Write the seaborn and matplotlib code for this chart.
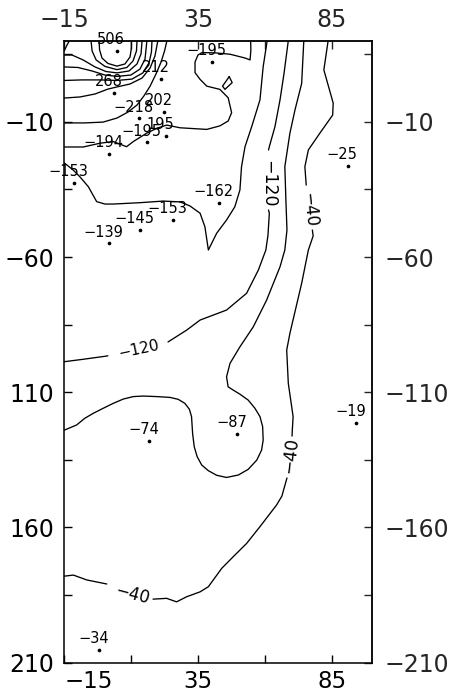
import matplotlib
matplotlib.use("Agg")
import matplotlib.pyplot as plt
import seaborn as sns

# ---------------- stations (x, depth) and their printed values ----------------
station_x = [4.6, 21.2, 3.7, 22.3, 12.9, 22.9, 15.8, 1.6, -11.4, 42.9, 25.8, 13.3, 1.6, 40.3, 91.0, 94.3, 49.7, 16.7, -2.0]
station_y = [16.2, 5.8, 0.8, -6.3, -8.7, -15.2, -17.6, -21.9, -32.5, -40.0, -46.3, -50.0, -54.9, 12.2, -26.2, -121.3, -125.4, -128.0, -205.2]
station_text = ["506", "212", "268", "202", "\u2212218", "195", "\u2212195", "\u2212194", "\u2212153", "\u2212162",
                "\u2212153", "\u2212145", "\u2212139", "\u2212195", "\u221225", "\u221219", "\u221287", "\u221274", "\u221234"]

# ---------------- traced isolines (split where a label interrupts the line) ----------------
c40_a_x = [83.7, 82.1, 85.6, 85.4, 80.6, 76.3, 75.0, 75.4, 75.5]
c40_a_y = [20, 9.2, -3.1, -7.5, -14.2, -20.4, -26.6, -32.0, -33.4]
c40_b_x = [77.8, 78.1, 76.3, 73.8, 69.4, 68.2, 68.8, 70.6, 70.3, 70.2]
c40_b_y = [-50.0, -52.2, -57.4, -69.7, -88.2, -94.4, -106.7, -119.0, -124.0, -126.2]
c40_c_x = [68.3, 66.4, 64.4, 58.2, 53.2, 48.2, 43.9, 38.9, 35.8, 30.8, 27.0, 23.3, 18.2]
c40_c_y = [-141.7, -148.4, -151.7, -159.7, -165.9, -170.8, -175.1, -181.9, -183.8, -185.6, -187.5, -186.2, -186.5]
c40_d_x = [0.9, -1.6, -6.6, -11.6, -15.0]
c40_d_y = [-180.9, -180.4, -179.4, -177.6, -178.0]

c80_x = [74.6, 73.8, 71.3, 69.4, 67.5, 67.9, 68.3, 67.5, 65.7, 60.7, 55.7, 50.7, 47.0, 45.7, 46.3, 48.2, 50.7,
         53.8, 56.3, 58.2, 59.2, 59.4, 58.8, 57.0, 53.8, 50.1, 45.7, 42.0, 38.9, 36.4, 34.7, 33.6, 33.0, 32.6,
         31.8, 30.1, 27.6, 24.5, 19.6, 14.5, 10.8, 7.1, 3.3, -0.4, -4.2, -7.3, -10.4, -15.0]
c80_y = [20, 4.2, -5.6, -14.2, -26.6, -38.9, -50.0, -57.4, -63.6, -75.9, -85.8, -93.2, -99.3, -104.3, -108.0,
         -109.2, -110.7, -112.9, -115.9, -119.0, -122.7, -127.7, -131.4, -135.1, -138.5, -140.6, -141.5, -140.7,
         -139.0, -136.9, -133.8, -130.1, -125.2, -119.0, -116.3, -114.1, -112.6, -111.9, -111.6, -111.4, -111.6,
         -112.5, -114.1, -115.9, -117.8, -119.6, -122.1, -124.0]

c120_a_x = [68.8, 67.2, 65.7, 63.8, 61.7, 61.4]
c120_a_y = [20, 7.9, -1.9, -11.8, -19.2, -20.4]
c120_b_x = [61.4, 61.7, 61.2, 60.4, 57.6, 53.2, 45.7, 35.8, 30.8, 23.8]
c120_b_y = [-42.6, -43.8, -51.9, -57.4, -64.8, -73.4, -79.6, -83.3, -87.0, -91.4]
c120_c_x = [1.3, 0.9, -7.9, -15.0]
c120_c_y = [-96.5, -96.6, -97.8, -98.7]

c160_x = [-15.0, -11.7, -9.1, -6.0, -2.9, 0.2, 3.3, 13.3, 22.0, 28.3, 32.0, 35.8, 37.6, 38.9, 42.0, 45.7, 48.8,
          50.7, 51.3, 52.6, 55.1, 58.2, 59.4, 60.9]
c160_y = [-25.2, -27.8, -30.4, -34.0, -39.5, -40.4, -40.4, -39.9, -39.3, -39.6, -41.1, -43.8, -48.8, -57.4, -51.2,
          -46.3, -41.4, -35.2, -26.6, -19.2, -11.8, -1.9, 10.4, 20]

c200_x = [-15.0, -7.9, -1.6, 3.3, 8.3, 10.8, 15.8, 19.6, 23.3, 28.3, 38.3, 43.2, 46.3, 47.6, 46.3, 43.2, 38.3,
          35.8, 33.9, 33.9, 35.0, 36.5, 41.4, 47.0, 52.6, 54.5, 54.8, 54.7]
c200_y = [-19.3, -19.3, -17.9, -17.3, -19.2, -17.3, -14.2, -12.4, -11.2, -12.2, -12.8, -11.5, -9.7, -6.6, -1.1,
          2.0, 3.2, 5.7, 8.2, 12.1, 14.7, 15.6, 15.5, 15.0, 13.6, 12.9, 16.6, 20]
c200_isle_x = [46.7, 47.8, 45.1, 44.2, 46.7]
c200_isle_y = [6.7, 4.5, 2.0, 3.2, 6.7]

c240_x = [-15.0, -7.3, -0.5, 4.7, 8.8, 12.2, 14.8, 17.1, 19.3, 21.2, 22.5, 23.4]
c240_y = [-10.4, -10.4, -10.1, -8.6, -6.4, -3.8, -0.4, 3.2, 7.7, 12.1, 16.2, 20]
c280_x = [-15.0, -9.1, -3.5, 1.3, 4.7, 9.6, 14.1, 17.1, 18.9, 20.0]
c280_y = [-1.2, -0.8, 0.3, 2.1, 2.9, 4.0, 6.2, 9.9, 14.3, 20]
c320_x = [-15.0, -8.4, -1.6, 4.7, 10.3, 14.4, 16.7, 17.6, 17.8]
c320_y = [5.3, 5.5, 5.5, 5.3, 5.8, 8.1, 11.8, 15.8, 20]
c360_x = [-15.0, -9.9, -4.6, 0.2, 4.7, 9.9, 13.3, 15.2, 15.9]
c360_y = [10.3, 10.1, 8.8, 7.3, 6.8, 7.3, 9.5, 13.2, 20]
c400_x = [-15.0, -12.1, -8.0, -3.5, 0.6, 4.7, 9.2, 12.2, 13.7, 14.1]
c400_y = [14.7, 14.7, 12.9, 10.3, 8.6, 8.1, 8.8, 11.4, 15.1, 20]
c400_corner_x = [-15.0, -14.2, -13.1]
c400_corner_y = [16.2, 18.0, 20]
c440_x = [-5.0, -4.6, -3.1, 0.2, 4.7, 8.4, 10.7, 12.0, 12.2]
c440_y = [20, 16.2, 12.9, 10.5, 9.3, 10.1, 12.5, 16.2, 20]
c480_x = [-2.0, -1.8, -0.9, 1.3, 4.7, 7.7, 9.6, 10.1, 10.1]
c480_y = [20, 16.6, 13.6, 11.6, 10.6, 11.4, 14.0, 17.3, 20]

# isoline labels
iso_label_text = ["\u2212120", "\u221240", "\u2212120", "\u221240", "\u221240"]
iso_label_x = [61.3, 76.5, 13.0, 69.4, 10.5]
iso_label_y = [-33.0, -42.6, -94.2, -133.5, -185.0]
iso_label_rot = [-90, -84, 12, 83, -15]
iso_label_size = [12.5, 12, 11, 12.5, 12]

# axes ticks
x_major = [-15, 35, 85]
x_minor = [10, 60]
x_labels = ["\u221215", "35", "85"]
y_major = [-10, -60, -110, -160, -210]
y_minor = [15, -35, -85, -135, -185]
y_labels_left = ["\u221210", "\u221260", "110", "160", "210"]
y_labels_right = ["\u221210", "\u221260", "\u2212110", "\u2212160", "\u2212210"]

segments = [
    (c40_a_x, c40_a_y), (c40_b_x, c40_b_y), (c40_c_x, c40_c_y), (c40_d_x, c40_d_y),
    (c80_x, c80_y),
    (c120_a_x, c120_a_y), (c120_b_x, c120_b_y), (c120_c_x, c120_c_y),
    (c160_x, c160_y),
    (c200_x, c200_y), (c200_isle_x, c200_isle_y),
    (c240_x, c240_y), (c280_x, c280_y), (c320_x, c320_y), (c360_x, c360_y),
    (c400_x, c400_y), (c400_corner_x, c400_corner_y), (c440_x, c440_y), (c480_x, c480_y),
]

sns.set_style("ticks")
plt.rcParams['font.family'] = ['DejaVu Sans']
plt.rcParams['axes.linewidth'] = 1.1

W, H = 452, 694
fig = plt.figure(figsize=(W / 100, H / 100), dpi=100)
fig.patch.set_facecolor("white")
left, right, top, bottom = 64.3, 371.7, 40.7, 662.7
ax = fig.add_axes([left / W, (H - bottom) / H, (right - left) / W, (bottom - top) / H])
ax.set_xlim(-15, 100)
ax.set_ylim(-210, 20)

for xs, ys in segments:
    sns.lineplot(x=xs, y=ys, sort=False, estimator=None, color="black", linewidth=0.95,
                 ax=ax, legend=False)

sns.scatterplot(x=station_x, y=station_y, color="black", s=7, linewidth=0, ax=ax, legend=False)
for sx, sy, st in zip(station_x, station_y, station_text):
    ax.annotate(st, (sx, sy), xytext=(-4, 8), textcoords="offset points",
                ha="center", va="center", fontsize=10.5, color="black")

for t, lx, ly, r, fs in zip(iso_label_text, iso_label_x, iso_label_y, iso_label_rot, iso_label_size):
    ax.text(lx, ly, t, rotation=r, rotation_mode="anchor", ha="center", va="center",
            fontsize=fs, color="black")

# ticks and labels
ax.set_xticks(x_major)
ax.set_xticklabels(x_labels)
ax.set_xticks(x_minor, minor=True)
ax.set_yticks(y_major)
ax.set_yticklabels(y_labels_left)
ax.set_yticks(y_minor, minor=True)
ax.tick_params(axis="both", which="both", direction="in", length=6, width=1.0, colors="black",
               labelsize=17)
ax.tick_params(axis="x", which="major", pad=5, labelsize=16.5)
ax.tick_params(axis="y", which="major", pad=7)
ax.get_xticklabels()[0].set_horizontalalignment("left")

secx = ax.secondary_xaxis("top")
secx.set_xticks(x_major)
secx.set_xticklabels(x_labels)
secx.set_xticks(x_minor, minor=True)
secx.tick_params(axis="x", which="both", direction="in", length=6, width=1.0, labelsize=17, pad=6)

secy = ax.secondary_yaxis("right")
secy.set_yticks(y_major)
secy.set_yticklabels(y_labels_right)
secy.set_yticks(y_minor, minor=True)
secy.tick_params(axis="y", which="both", direction="in", length=6, width=1.0, labelsize=17, pad=9)

ax.set_xlabel("")
ax.set_ylabel("")
for s in ax.spines.values():
    s.set_visible(True)
    s.set_color("black")

fig.savefig("out.png", dpi=100, facecolor="white")
